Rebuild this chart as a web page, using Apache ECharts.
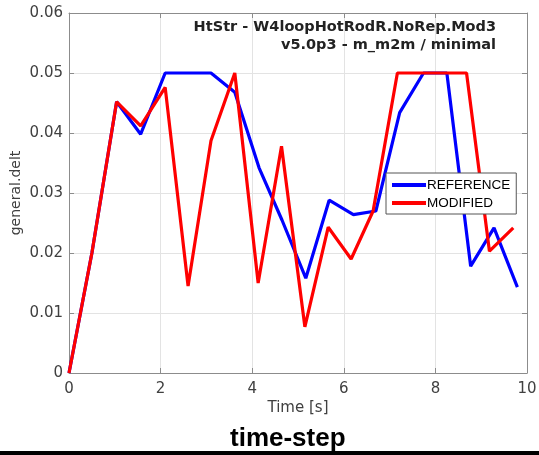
<!DOCTYPE html>
<html>
<head>
<meta charset="utf-8">
<script src="https://cdn.jsdelivr.net/npm/echarts@6/dist/echarts.min.js"></script>
<style>
  html, body { margin: 0; padding: 0; background: #fff; }
  #main { width: 539px; height: 455px; }
  #bar { position: absolute; left: 0; top: 451px; width: 539px; height: 4px; background: #000; }
</style>
</head>
<body>
<div id="main"></div>
<div id="bar"></div>
<script>
// data
var refTime = [0, 0.5, 1.04, 1.565, 2.10, 2.60, 3.10, 3.62, 4.15, 4.65, 5.17, 5.68, 6.21, 6.70, 7.22, 7.74, 8.25, 8.77, 9.28, 9.79];
var refDelt = [0, 0.020, 0.0452, 0.0398, 0.050, 0.050, 0.050, 0.0468, 0.0342, 0.0255, 0.0158, 0.0288, 0.0264, 0.0270, 0.0434, 0.050, 0.050, 0.0178, 0.0242, 0.0143];
var modTime = [0, 0.5, 1.04, 1.565, 2.10, 2.60, 3.10, 3.62, 4.13, 4.64, 5.15, 5.66, 6.16, 6.64, 7.17, 7.68, 8.18, 8.68, 9.18, 9.70];
var modDelt = [0, 0.020, 0.0452, 0.0412, 0.0476, 0.0145, 0.0387, 0.0500, 0.0150, 0.0378, 0.0077, 0.0243, 0.0190, 0.0270, 0.050, 0.050, 0.050, 0.050, 0.0203, 0.0242];
var xTicks = [0, 2, 4, 6, 8, 10];
var yTicks = [0, 0.01, 0.02, 0.03, 0.04, 0.05, 0.06];

var toPairs = function (xs, ys) {
    return xs.map(function (x, i) { return [x, ys[i]]; });
};

var axisGray = '#8c8c8c';
var labelGray = '#404040';

var chartDom = document.getElementById('main');
var myChart = echarts.init(chartDom, null, { renderer: 'canvas' });

var xBase = {
    type: 'value',
    min: xTicks[0],
    max: xTicks[xTicks.length - 1],
    interval: xTicks[1] - xTicks[0],
    axisLine: { show: true, onZero: false, lineStyle: { color: axisGray, width: 1 } },
    axisTick: { show: true, inside: true, length: 5, lineStyle: { color: axisGray } }
};
var yBase = {
    type: 'value',
    min: yTicks[0],
    max: yTicks[yTicks.length - 1],
    interval: yTicks[1] - yTicks[0],
    axisLine: { show: true, onZero: false, lineStyle: { color: axisGray, width: 1 } },
    axisTick: { show: true, inside: true, length: 5, lineStyle: { color: axisGray } }
};

var titleFont = { fontFamily: 'DejaVu Sans', fontSize: 14.5, fontWeight: 'bold', color: '#222' };

var option = {
    animation: false,
    backgroundColor: '#fff',
    grid: { left: 69, right: 12, top: 13, bottom: 82, containLabel: false, outerBoundsMode: 'none' },
    title: [
        { text: 'HtStr - W4loopHotRodR.NoRep.Mod3', right: 38, top: 15, textStyle: titleFont },
        { text: 'v5.0p3 - m_m2m / minimal', right: 38, top: 33, textStyle: titleFont },
        {
            text: 'time-step',
            left: 225, top: 421,
            textStyle: { fontFamily: 'Liberation Sans', fontSize: 26, fontWeight: 'bold', color: '#000' }
        }
    ],
    legend: {
        orient: 'vertical',
        left: 386, top: 173,
        padding: [5, 6, 4, 6],
        itemGap: 4,
        itemWidth: 34,
        itemHeight: 4,
        icon: 'rect',
        backgroundColor: '#fff',
        borderColor: '#555',
        borderWidth: 1,
        borderRadius: 0,
        textStyle: { fontFamily: 'Liberation Sans', fontSize: 13.5, color: '#000', padding: [0, 0, 0, -4] },
        data: ['REFERENCE', 'MODIFIED']
    },
    xAxis: [
        Object.assign({}, xBase, {
            position: 'bottom',
            name: 'Time [s]',
            nameLocation: 'middle',
            nameGap: 28,
            nameMoveOverlap: false,
            nameTextStyle: { fontFamily: 'DejaVu Sans', fontSize: 15, color: labelGray },
            axisLabel: { fontFamily: 'DejaVu Sans', fontSize: 15, color: labelGray, margin: 9 },
            splitLine: { show: true, lineStyle: { color: '#e3e3e3', width: 1 } }
        }),
        Object.assign({}, xBase, {
            position: 'top',
            axisLabel: { show: false },
            splitLine: { show: false }
        })
    ],
    yAxis: [
        Object.assign({}, yBase, {
            position: 'left',
            name: 'general.delt',
            nameLocation: 'middle',
            nameGap: 46,
            nameMoveOverlap: false,
            nameTextStyle: { fontFamily: 'DejaVu Sans', fontSize: 14, color: labelGray },
            axisLabel: {
                fontFamily: 'DejaVu Sans', fontSize: 15, color: labelGray, margin: 6,
                formatter: function (v) { return v === 0 ? '0' : v.toFixed(2); }
            },
            splitLine: { show: true, lineStyle: { color: '#e3e3e3', width: 1 } }
        }),
        Object.assign({}, yBase, {
            position: 'right',
            axisLabel: { show: false },
            splitLine: { show: false }
        })
    ],
    series: [
        {
            name: 'REFERENCE',
            type: 'line',
            data: toPairs(refTime, refDelt),
            symbol: 'none',
            color: '#0000ff',
            lineStyle: { color: '#0000ff', width: 3.2 }
        },
        {
            name: 'MODIFIED',
            type: 'line',
            data: toPairs(modTime, modDelt),
            symbol: 'none',
            color: '#ff0000',
            lineStyle: { color: '#ff0000', width: 3.2 }
        }
    ]
};
option && myChart.setOption(option);
</script>
</body>
</html>
